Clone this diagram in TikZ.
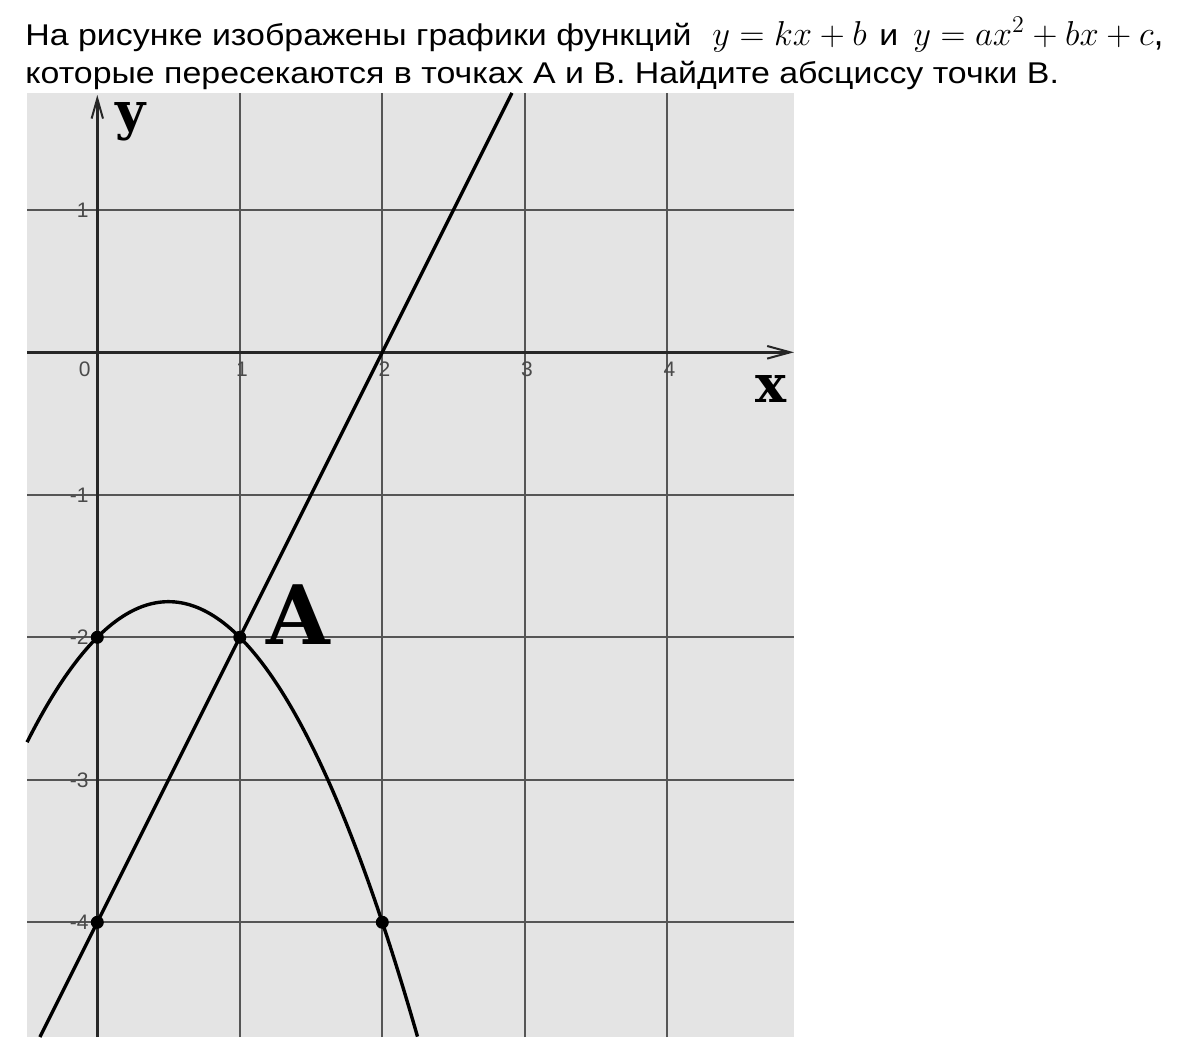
\documentclass[tikz,border=0pt]{standalone}
\usepackage{fontspec}
\setmainfont{Liberation Sans}
\newfontfamily\titlefont[FakeStretch=1.13]{Liberation Sans}
\newfontfamily\labfont{DejaVu Serif}
\usetikzlibrary{arrows.meta}
\definecolor{bgc}{HTML}{E4E4E4}
\definecolor{gridc}{HTML}{555555}
\definecolor{tickc}{HTML}{4A4A4A}
\tikzset{
  gridline/.style={gridc, line width=1pt},
  axisline/.style={black!85, line width=1.3pt},
  curve/.style={black, line width=1.7pt},
  ticklab/.style={font=\fontsize{10.5}{10.5}\selectfont, text=tickc, inner sep=0pt},
  dot/.style={circle, fill=black, inner sep=0pt, minimum size=6.5pt},
  titletext/.style={anchor=base west, inner sep=0pt, font=\titlefont\fontsize{15}{15}\selectfont},
  mathtext/.style={anchor=base west, inner sep=0pt, font=\fontsize{18}{18}\selectfont},
}
\begin{document}
\begin{tikzpicture}[x=0.5pt,y=-0.5pt]
\useasboundingbox (0,0) rectangle (1180,1064);
\node[titletext] (t1) at (25,45.5) {На рисунке изображены графики функций};
\node[mathtext] (m1) at (712,45.5) {$y = kx + b$};
\node[titletext] (t1i) at (879,45.5) {и};
\node[mathtext] (m2) at (913,45.5) {$y = ax^2 + bx + c$,};
\node[titletext] (t2) at (25,83.5) {которые пересекаются в точках А и В. Найдите абсциссу точки В.};
\begin{scope}[shift={(48.65pt,-176.15pt)}, x=71.25pt, y=71.25pt]
  \fill[bgc] (-0.493,-4.805) rectangle (4.889,1.82);
  \foreach \i in {1,...,4} \draw[gridline] (\i,-4.805) -- (\i,1.82);
  \foreach \j in {1,-1,-2,-3,-4} \draw[gridline] (-0.493,\j) -- (4.889,\j);
  \coordinate (xl) at (-0.493,0);
  \coordinate (xr) at (4.889,0);
  \coordinate (yb) at (0,-4.805);
  \coordinate (yt) at (0,1.806);
  \draw[axisline, -{Straight Barb[length=11.5pt,width=6.3pt,line width=1pt]}] (xl) -- (xr);
  \draw[axisline, -{Straight Barb[length=10pt,width=5.7pt,line width=1pt]}] (yb) -- (yt);
  \node[ticklab] (x0) at (-0.088,-0.121) {0};
  \foreach \i in {1,...,4} \node[ticklab] (x\i) at (\i+0.015,-0.121) {\i};
  \foreach \j in {1,-1,-2,-3,-4} \node[ticklab, anchor=east] (y\j) at (-0.058,\j) {\j};
  \coordinate (L1) at (-0.4025,-4.805);
  \coordinate (L2) at (2.91,1.82);
  \draw[curve] (L1) -- (L2);
  \draw[curve, domain=-0.493:2.248, samples=120, smooth] plot (\x, {-(\x)*(\x)+\x-2});
  \node[dot] (P1) at (0,-2) {};
  \node[dot] (A) at (1,-2) {};
  \node[dot] (P3) at (0,-4) {};
  \node[dot] (B) at (2,-4) {};
  \node[inner sep=0pt, font=\labfont\bfseries\fontsize{41}{41}\selectfont] (Alab) at (1.412,-1.844) {A};
  \node[inner sep=0pt, anchor=base, font=\labfont\bfseries\fontsize{26}{26}\selectfont] (xlab) at (4.727,-0.352) {x};
  \node[inner sep=0pt, anchor=base, font=\labfont\bfseries\fontsize{26}{26}\selectfont] (ylab) at (0.233,1.56) {y};
\end{scope}
\end{tikzpicture}
\end{document}
